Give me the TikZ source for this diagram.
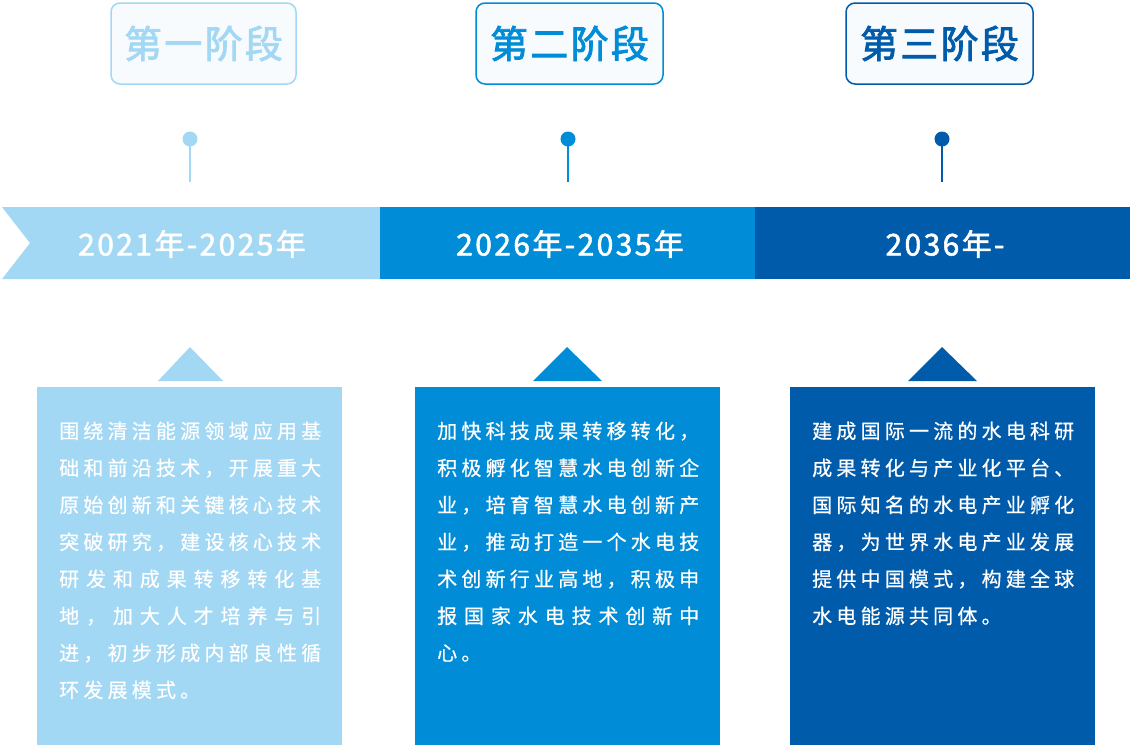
\documentclass[tikz,border=0pt]{standalone}
\usepackage{fontspec}
\setmainfont{Noto Sans CJK SC}
\newfontfamily\cjkbody[FakeBold=0.6]{Noto Sans CJK SC}
\newfontfamily\cjkyear[LetterSpace=8,FakeBold=1.8]{Noto Sans CJK SC}
\newfontfamily\cjktitle[LetterSpace=6,FakeBold=2.2]{Noto Sans CJK SC}
\definecolor{cA}{HTML}{A2D8F4}
\definecolor{cB}{HTML}{008CD6}
\definecolor{cC}{HTML}{005BAB}
\definecolor{boxbg}{HTML}{F7FBFE}
\newlength\linew \setlength\linew{262pt}
\def\jA#1{\ifx\relax#1\else #1\expandafter\jB\fi}
\def\jB#1{\ifx\relax#1\else\hfill #1\expandafter\jB\fi}
\newcommand\jline[1]{\hbox to \linew{\jA#1\relax}}
\def\gA#1{\ifx\relax#1\else #1\expandafter\gB\fi}
\def\gB#1{\ifx\relax#1\else\kern4.2pt #1\expandafter\gB\fi}
\newcommand\gline[1]{\hbox{\gA#1\relax}}
\tikzset{
  stagebox/.style={draw=#1, fill=boxbg, line width=1.5pt, rounded corners=9pt,
    minimum height=81pt, inner sep=0pt, text=#1,
    font=\fontsize{38}{38}\selectfont\cjktitle},
  dotnode/.style={circle, fill=#1, minimum size=15pt, inner sep=0pt},
  stem/.style={draw=#1, line width=2pt},
  yeartext/.style={text=white, inner sep=0pt, font=\fontsize{30}{30}\selectfont\cjkyear},
  infobox/.style={fill=#1, minimum width=305pt, minimum height=358pt, inner sep=0pt, anchor=north west},
  bodytext/.style={text=white, inner sep=0pt, anchor=base west, font=\fontsize{20}{20}\selectfont\cjkbody}
}
\begin{document}
\begin{tikzpicture}[x={(1pt,0)}, y={(0,-1pt)}]
\useasboundingbox (0,0) rectangle (1134,748);
% stage titles
\node[stagebox=cA, minimum width=185pt] (t1) at (203.5,43.5) {第一阶段};
\node[stagebox=cB, minimum width=187pt] (t2) at (569.5,43.5) {第二阶段};
\node[stagebox=cC, minimum width=187pt] (t3) at (939.5,43.5) {第三阶段};
% dots and stems
\node[dotnode=cA] (d1) at (190,139) {};
\node[dotnode=cB] (d2) at (568,139) {};
\node[dotnode=cC] (d3) at (942,139) {};
\coordinate (s1) at (190,182);
\coordinate (s2) at (568,182);
\coordinate (s3) at (942,182);
\draw[stem=cA] (d1.center) -- (s1);
\draw[stem=cB] (d2.center) -- (s2);
\draw[stem=cC] (d3.center) -- (s3);
% band
\fill[cA] (2,207) -- (380,207) -- (380,279) -- (2,279) -- (30,243) -- cycle;
\fill[cB] (380,207) rectangle (755,279);
\fill[cC] (755,207) rectangle (1130,279);
\node[yeartext] (y1) at (192,244) {2021年-2025年};
\node[yeartext] (y2) at (570,244) {2026年-2035年};
\node[yeartext] (y3) at (945,244) {2036年-};
% triangles
\fill[cA] (158,381) -- (190,347) -- (223,381) -- cycle;
\fill[cB] (533,381) -- (567,347) -- (602,381) -- cycle;
\fill[cC] (908,381) -- (942,347) -- (977,381) -- cycle;
% info boxes
\node[infobox=cA] (b1) at (37,387) {};
\node[infobox=cB] (b2) at (415,387) {};
\node[infobox=cC] (b3) at (790,387) {};
\node[bodytext] (p1) at (59,438.5) {\vtop{\baselineskip=37pt
  \jline{围绕清洁能源领域应用基}
  \jline{础和前沿技术，开展重大}
  \jline{原始创新和关键核心技术}
  \jline{突破研究，建设核心技术}
  \jline{研发和成果转移转化基}
  \jline{地，加大人才培养与引}
  \jline{进，初步形成内部良性循}
  \gline{环发展模式。}}};
\node[bodytext] (p2) at (437,438.5) {\vtop{\baselineskip=37pt
  \jline{加快科技成果转移转化，}
  \jline{积极孵化智慧水电创新企}
  \jline{业，培育智慧水电创新产}
  \jline{业，推动打造一个水电技}
  \jline{术创新行业高地，积极申}
  \jline{报国家水电技术创新中}
  \gline{心。}}};
\node[bodytext] (p3) at (812,438.5) {\vtop{\baselineskip=37pt
  \jline{建成国际一流的水电科研}
  \jline{成果转化与产业化平台、}
  \jline{国际知名的水电产业孵化}
  \jline{器，为世界水电产业发展}
  \jline{提供中国模式，构建全球}
  \gline{水电能源共同体。}}};
\end{tikzpicture}
\end{document}
